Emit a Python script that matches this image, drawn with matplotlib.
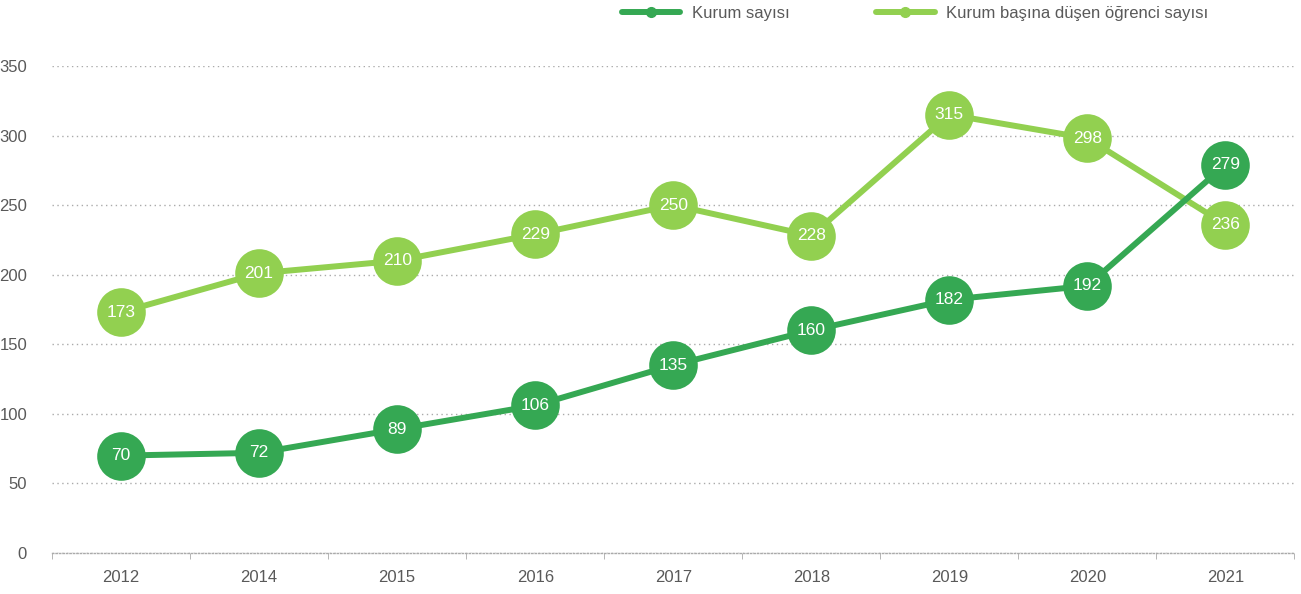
import matplotlib
matplotlib.use('Agg')
import matplotlib.pyplot as plt
from matplotlib.lines import Line2D
import numpy as np

years = ['2012', '2014', '2015', '2016', '2017', '2018', '2019', '2020', '2021']
kurum = [70, 72, 89, 106, 135, 160, 182, 192, 279]
ogrenci = [173, 201, 210, 229, 250, 228, 315, 298, 236]

dark = '#35A853'
light = '#92D050'
gray = '#595959'

plt.rcParams['font.family'] = ['Liberation Sans', 'DejaVu Sans']

fig = plt.figure(figsize=(13.01, 5.94), dpi=100)
ax = fig.add_axes([0.040, 0.069, 0.955, 0.820])

x = np.arange(len(years))
for vals, col in [(ogrenci, light), (kurum, dark)]:
    ax.plot(x, vals, color=col, lw=4.3, marker='o', markersize=35,
            markeredgewidth=0, solid_capstyle='round', zorder=3)
    for xi, v in zip(x, vals):
        ax.text(xi, v, str(v), color='white', ha='center', va='center',
                fontsize=12.5, zorder=5)

ax.set_xlim(-0.5, len(years) - 0.5)
ax.set_ylim(0, 350)
ax.set_yticks(np.arange(0, 351, 50))
ax.set_xticks(x)
ax.set_xticklabels(years)
ax.set_xticks(np.arange(-0.5, len(years), 1), minor=True)
ax.tick_params(axis='x', which='major', length=0, pad=12, labelsize=12, labelcolor=gray)
ax.tick_params(axis='x', which='minor', length=4, color='#aaaaaa', direction='out')
ax.tick_params(axis='y', length=0, pad=18, labelsize=12, labelcolor=gray)
for lab in ax.get_yticklabels():
    lab.set_horizontalalignment('right')

for s in ['top', 'right', 'left']:
    ax.spines[s].set_visible(False)
ax.spines['bottom'].set_color('#aaaaaa')
ax.spines['bottom'].set_linestyle((0, (1, 1.5)))
ax.spines['bottom'].set_linewidth(1)

ax.yaxis.grid(True, color='#aaaaaa', linestyle=(0, (1, 2.5)), linewidth=1)
ax.set_axisbelow(True)

handles = [
    Line2D([0], [0], color=dark, lw=4.3, marker='o', markersize=7, solid_capstyle='round'),
    Line2D([0], [0], color=light, lw=4.3, marker='o', markersize=7, solid_capstyle='round'),
]
fig.legend(handles, ['Kurum sayısı', 'Kurum başına düşen öğrenci sayısı'],
           loc='center left', bbox_to_anchor=(0.478, 0.978), ncol=2, frameon=False,
           borderpad=0, borderaxespad=0,
           handlelength=3.5, columnspacing=5.2, handletextpad=0.7,
           fontsize=12, labelcolor=gray)

fig.savefig('out.png', dpi=100)
